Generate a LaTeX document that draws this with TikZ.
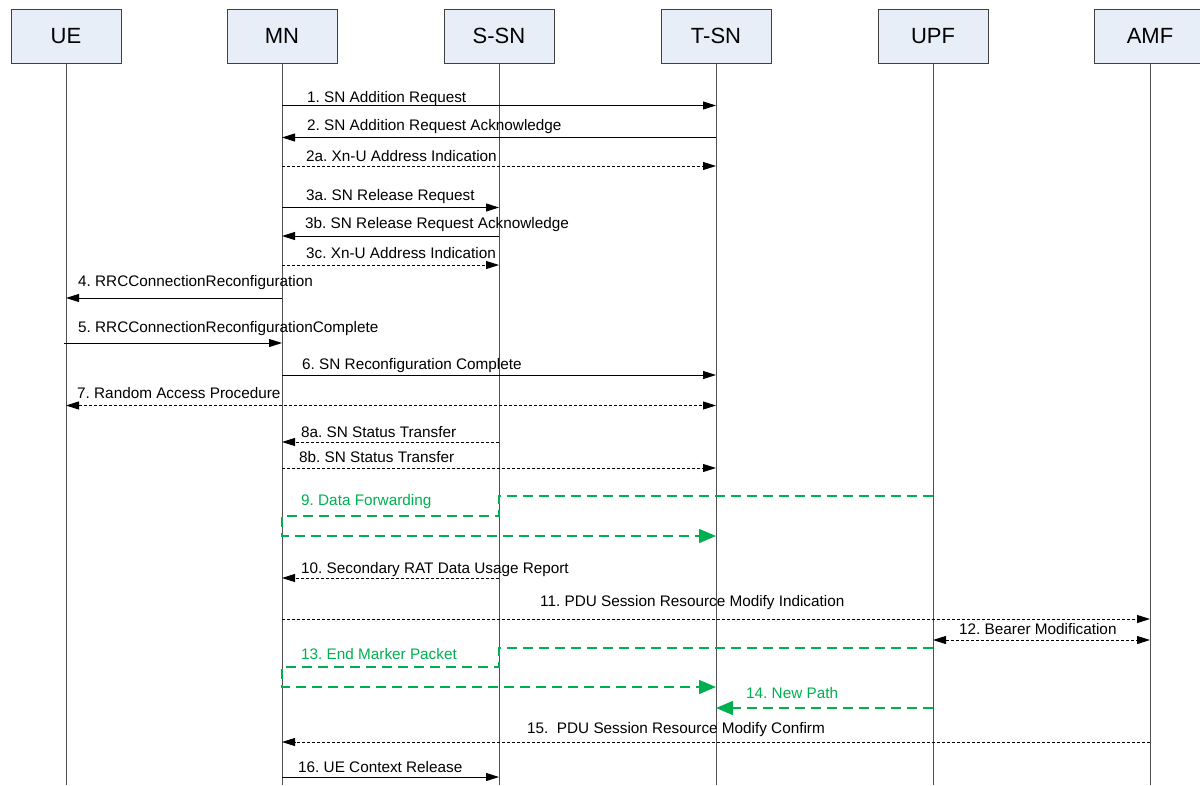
\documentclass[tikz,border=0pt]{standalone}
\usepackage{fontspec}
\setmainfont{Liberation Sans}
\usetikzlibrary{arrows.meta}
\definecolor{boxfill}{HTML}{E8EEF8}
\definecolor{boxline}{HTML}{404040}
\definecolor{lifec}{HTML}{505050}
\definecolor{fwd}{HTML}{00B050}
\begin{document}
\frenchspacing
\begin{tikzpicture}[x=1pt,y=-1pt,
  hdr/.style={draw=boxline, fill=boxfill, line width=1pt, minimum width=110pt,
    minimum height=53.5pt, inner sep=0pt, font=\fontsize{22}{26}\selectfont},
  life/.style={draw=lifec, line width=1pt},
  msg/.style={line width=0.9pt, -{Triangle[length=13pt,width=8pt]}},
  dmsg/.style={msg, dash pattern=on 3pt off 2pt},
  bmsg/.style={line width=0.9pt, dash pattern=on 3pt off 2pt,
    {Triangle[length=13pt,width=8pt]}-{Triangle[length=13pt,width=8pt]}},
  lbl/.style={anchor=base west, inner sep=0pt, font=\fontsize{15.3}{18}\selectfont},
  gmsg/.style={draw=fwd, line width=1.5pt, dash pattern=on 10pt off 6pt},
  garrow/.style={gmsg, -{Triangle[length=17pt,width=14pt,fill=fwd]}},
  glbl/.style={lbl, text=fwd}]
\useasboundingbox (0,0) rectangle (1200,785);
\fill[white] (0,0) rectangle (1200,785);

% headers
\node[hdr] (UE)  at (66,36.25)   {UE};
\node[hdr] (MN)  at (282,36.25)  {MN};
\node[hdr] (SSN) at (499,36.25)  {S-SN};
\node[hdr] (TSN) at (716,36.25)  {T-SN};
\node[hdr] (UPF) at (933,36.25)  {UPF};
\node[hdr, minimum width=112pt] (AMF) at (1150,36.25) {AMF};

% lifelines
\coordinate (bot) at (0,785);
\foreach \n in {UE,MN,SSN,TSN,UPF,AMF}{
  \draw[life] (\n.south) -- (\n.south |- bot);
}

% messages
\draw[msg]  (MN |- 0,105.5) -- (TSN |- 0,105.5);
\node[lbl] (l1) at (307,102) {1. SN Addition Request};

\draw[msg]  (TSN |- 0,137.5) -- (MN |- 0,137.5);
\node[lbl] (l2) at (307,130.5) {2. SN Addition Request Acknowledge};

\draw[dmsg] (MN |- 0,166) -- (TSN |- 0,166);
\node[lbl] (l2a) at (306,161) {2a. Xn-U Address Indication};

\draw[msg]  (MN |- 0,207.5) -- (SSN |- 0,207.5);
\node[lbl] (l3a) at (306,200) {3a. SN Release Request};

\draw[msg]  (SSN |- 0,236) -- (MN |- 0,236);
\node[lbl] (l3b) at (305,228) {3b. SN Release Request Acknowledge};

\draw[dmsg] (MN |- 0,265) -- (SSN |- 0,265);
\node[lbl] (l3c) at (306,258) {3c. Xn-U Address Indication};

\draw[msg]  (MN |- 0,298) -- (UE |- 0,298);
\node[lbl] (l4) at (78,286.5) {4. RRCConnectionReconfiguration};

\draw[msg]  ([xshift=-2pt]UE |- 0,343) -- (MN |- 0,343);
\node[lbl] (l5) at (78,332) {5. RRCConnectionReconfigurationComplete};

\draw[msg]  (MN |- 0,375) -- (TSN |- 0,375);
\node[lbl] (l6) at (302,369) {6. SN Reconfiguration Complete};

\draw[bmsg] (UE |- 0,405.5) -- (TSN |- 0,405.5);
\node[lbl] (l7) at (77,398) {7. Random Access Procedure};

\draw[dmsg] (SSN |- 0,442) -- (MN |- 0,442);
\node[lbl] (l8a) at (301,437) {8a. SN Status Transfer};

\draw[dmsg] (MN |- 0,468) -- (TSN |- 0,468);
\node[lbl] (l8b) at (299,462.5) {8b. SN Status Transfer};

% 9. data forwarding
\draw[garrow] (UPF |- 0,496) -- (SSN |- 0,496) -- (SSN |- 0,516) -- (MN |- 0,516)
   -- (MN |- 0,536) -- (TSN |- 0,536);
\node[glbl] (l9) at (301,505) {9. Data Forwarding};

\draw[dmsg] (SSN |- 0,578) -- (MN |- 0,578);
\node[lbl] (l10) at (301,573) {10. Secondary RAT Data Usage Report};

\draw[dmsg] (MN |- 0,619) -- (AMF |- 0,619);
\node[lbl] (l11) at (540,606.5) {11. PDU Session Resource Modify Indication};

\draw[bmsg] (UPF |- 0,640) -- (AMF |- 0,640);
\node[lbl] (l12) at (959,634) {12. Bearer Modification};

% 13. end marker
\draw[garrow] (UPF |- 0,648) -- (SSN |- 0,648) -- (SSN |- 0,667) -- (MN |- 0,667)
   -- (MN |- 0,687) -- (TSN |- 0,687);
\node[glbl] (l13) at (301,659) {13. End Marker Packet};

% 14. new path
\draw[garrow] (UPF |- 0,708) -- (TSN |- 0,708);
\node[glbl] (l14) at (746,698) {14. New Path};

\draw[dmsg] (AMF |- 0,742) -- (MN |- 0,742);
\node[lbl] (l15) at (527,733.5) {15.\ \ PDU Session Resource Modify Confirm};

\draw[msg]  (MN |- 0,777) -- (SSN |- 0,777);
\node[lbl] (l16) at (298,772) {16. UE Context Release};
\end{tikzpicture}
\end{document}
